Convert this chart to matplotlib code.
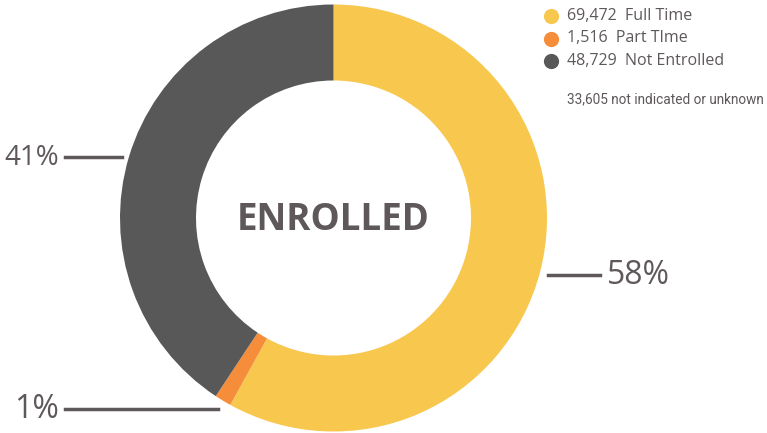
import matplotlib.pyplot as plt

# данные
labels = ['Full Time', 'Part TIme', 'Not Entrolled']
counts = [69472, 1516, 48729]
colors = ['#F8C74E', '#F58D3B', '#585858']
pct_labels = ['58%', '1%', '41%']
note = '33,605 not indicated or unknown'

text_color = '#5E585A'

fig = plt.figure(figsize=(7.67, 4.33), dpi=100)
ax = fig.add_axes([0, 0, 1, 1])

H = 433
cx, cy, r = 333.5, H - 218, 213.5

# кольцо
ax.pie(counts, colors=colors, startangle=90, counterclock=False,
       center=(cx, cy), radius=r, frame=True,
       wedgeprops=dict(width=76, linewidth=0))
ax.set_xlim(0, 767)
ax.set_ylim(0, 433)
ax.set_aspect('equal')
ax.axis('off')

ax.text(cx, H - 220, 'ENROLLED', ha='center', va='center', fontsize=26.5,
        fontweight='bold', color=text_color, family='Open Sans')

# выноски с процентами
ax.plot([548, 600], [H - 275, H - 275], color=text_color, lw=2.5)
ax.text(607, H - 276, pct_labels[0], ha='left', va='center', fontsize=23,
        color=text_color, family='Open Sans')
ax.plot([65, 218], [H - 409, H - 409], color=text_color, lw=2.5)
ax.text(59, H - 410, pct_labels[1], ha='right', va='center', fontsize=23,
        color=text_color, family='Open Sans')
ax.plot([65, 122], [H - 157, H - 157], color=text_color, lw=2.5)
ax.text(59, H - 158, pct_labels[2], ha='right', va='center', fontsize=20,
        color=text_color, family='Open Sans')

# легенда
for i, (lab, n, c) in enumerate(zip(labels, counts, colors)):
    y = H - (16 + i * 22.5)
    ax.scatter([551], [y], s=120, color=c, linewidths=0)
    ax.text(567, y, f'{n:,}  {lab}', ha='left', va='center', fontsize=11.5,
            color=text_color, family='Open Sans')

ax.text(567, H - 99, note, ha='left', va='center', fontsize=9.8,
        color=text_color, family='Roboto')

fig.savefig('out.png', dpi=100)
